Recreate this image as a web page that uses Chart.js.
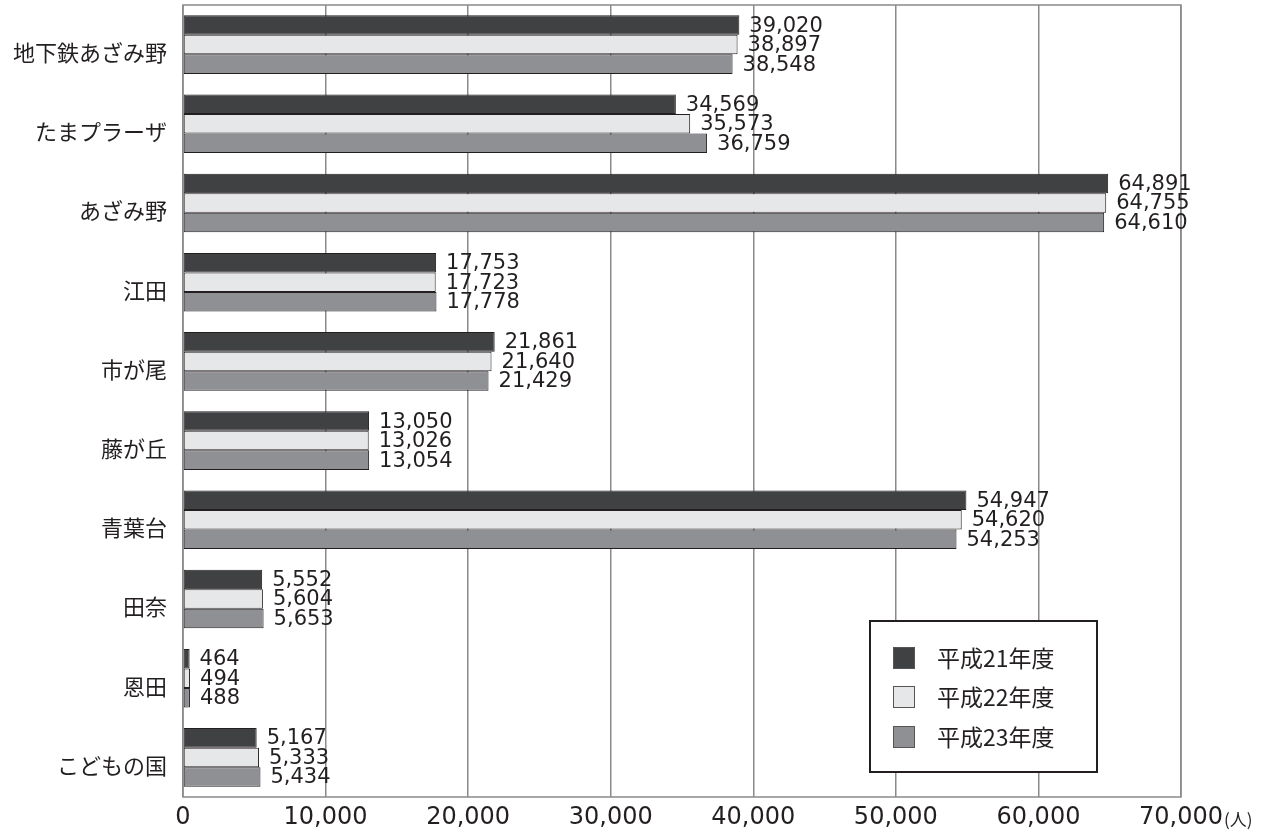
<!DOCTYPE html>
<html>
<head>
<meta charset="utf-8">
<script src="https://cdn.jsdelivr.net/npm/chart.js@4/dist/chart.umd.min.js"></script>
<style>
html,body{margin:0;padding:0;background:#fff;}
canvas{display:block;}
</style>
</head>
<body>
<canvas id="c" width="1276" height="837"></canvas>
<script>
const categories = ['地下鉄あざみ野','たまプラーザ','あざみ野','江田','市が尾','藤が丘','青葉台','田奈','恩田','こどもの国'];
const seriesNames = ['平成21年度','平成22年度','平成23年度'];
const h21 = [39020,34569,64891,17753,21861,13050,54947,5552,464,5167];
const h22 = [38897,35573,64755,17723,21640,13026,54620,5604,494,5333];
const h23 = [38548,36759,64610,17778,21429,13054,54253,5653,488,5434];
const xTicks = [0,10000,20000,30000,40000,50000,60000,70000];
const unitLabel = '(人)';

const colors = ['#404143','#e6e7e8','#8f9093'];
const ink = '#231f20';
const gridColor = '#8a8a8a';
const numFont = '21px "DejaVu Sans"';

const valueLabels = {
  id:'valueLabels',
  afterDatasetsDraw(chart){
    const ctx = chart.ctx;
    ctx.save();
    ctx.font = numFont;
    ctx.fillStyle = ink;
    ctx.textAlign = 'left';
    ctx.textBaseline = 'middle';
    chart.data.datasets.forEach((ds,i)=>{
      const meta = chart.getDatasetMeta(i);
      meta.data.forEach((el,j)=>{
        ctx.fillText(ds.data[j].toLocaleString('en-US'), el.x + 10, el.y + 1);
      });
    });
    ctx.restore();
  }
};

const frame = {
  id:'frame',
  beforeDatasetsDraw(chart){
    const a = chart.chartArea, ctx = chart.ctx;
    ctx.save();
    ctx.strokeStyle = gridColor;
    ctx.lineWidth = 1.5;
    ctx.strokeRect(a.left, a.top, a.right - a.left, a.bottom - a.top);
    ctx.restore();
  },
  afterDraw(chart){
    const ctx = chart.ctx;
    const xs = chart.scales.x;
    ctx.save();
    ctx.font = '24px "DejaVu Sans"';
    const lastPx = xs.getPixelForValue(xTicks[xTicks.length-1]);
    const w = ctx.measureText('70,000').width;
    ctx.font = '17px "Noto Sans CJK JP"';
    ctx.fillStyle = ink;
    ctx.textAlign = 'left';
    ctx.textBaseline = 'middle';
    ctx.fillText(unitLabel, lastPx + w/2 + 1, 820);
    // legend box
    const bx = 870, by = 621, bw = 227, bh = 151;
    ctx.fillStyle = '#fff';
    ctx.fillRect(bx, by, bw, bh);
    ctx.strokeStyle = ink;
    ctx.lineWidth = 2;
    ctx.strokeRect(bx, by, bw, bh);
    const rows = [658, 697, 737];
    chart.data.datasets.forEach((ds,i)=>{
      ctx.fillStyle = ds.backgroundColor;
      ctx.fillRect(893, rows[i]-11, 21, 21);
      ctx.strokeStyle = '#555';
      ctx.lineWidth = 1;
      ctx.strokeRect(893.5, rows[i]-10.5, 21, 21);
      ctx.fillStyle = ink;
      ctx.font = '23px "Noto Sans CJK JP"';
      ctx.textAlign = 'left';
      ctx.textBaseline = 'middle';
      ctx.fillText(ds.label, 937, rows[i]);
    });
    ctx.restore();
  }
};

new Chart(document.getElementById('c'), {
  type:'bar',
  data:{
    labels: categories,
    datasets: [h21,h22,h23].map((d,i)=>({
      label: seriesNames[i],
      data: d,
      backgroundColor: colors[i],
      borderColor: ink,
      borderWidth: 1,
      borderSkipped: false,
      categoryPercentage: 0.74,
      barPercentage: 1.0
    }))
  },
  options:{
    indexAxis:'y',
    responsive:false,
    animation:false,
    layout:{padding:{top:5,right:95,bottom:0,left:0}},
    plugins:{legend:{display:false},tooltip:{enabled:false}},
    scales:{
      x:{
        type:'linear', min:0, max:70000,
        afterBuildTicks(s){ s.ticks = xTicks.map(v=>({value:v})); },
        ticks:{
          callback:(v)=>Number(v).toLocaleString('en-US'),
          font:{family:'DejaVu Sans', size:24},
          color:ink, padding:6, maxRotation:0, autoSkip:false
        },
        grid:{color:gridColor, lineWidth:1.5, drawTicks:false},
        border:{display:false},
        afterFit(s){ s.height = 40; s.paddingLeft = 0; s.paddingRight = 0; }
      },
      y:{
        ticks:{font:{family:'Noto Sans CJK JP', size:22}, color:ink, padding:16, labelOffset:8},
        grid:{display:false, drawTicks:false},
        border:{display:false},
        afterFit(s){ s.width = 183; s.paddingTop = 0; s.paddingBottom = 0; }
      }
    }
  },
  plugins:[frame, valueLabels]
});
</script>
</body>
</html>
